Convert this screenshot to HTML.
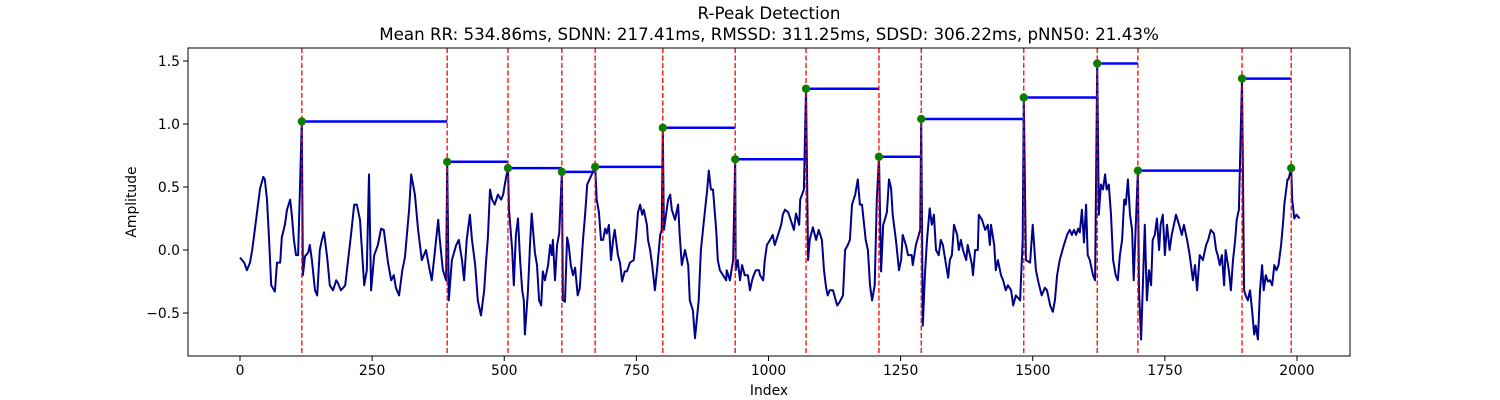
<!DOCTYPE html>
<html><head><meta charset="utf-8"><style>
html,body{margin:0;padding:0;background:#fff;}
svg{display:block;font-family:"DejaVu Sans","Liberation Sans",sans-serif;}
</style></head><body>
<svg id="chart" width="1500" height="400" viewBox="0 0 1500 400">
<text x="769" y="19" text-anchor="middle" font-size="16.7">R-Peak Detection</text>
<text x="769" y="40" text-anchor="middle" font-size="16.7">Mean RR: 534.86ms, SDNN: 217.41ms, RMSSD: 311.25ms, SDSD: 306.22ms, pNN50: 21.43%</text>
<g id="plot"></g>
<rect x="188" y="48" width="1162" height="308" fill="none" stroke="#000" stroke-width="1"/>
<text x="769" y="395" text-anchor="middle" font-size="13.9">Index</text>
<text transform="translate(136,202) rotate(-90)" text-anchor="middle" font-size="13.9">Amplitude</text>
</svg>
<script>
const sigIdx=[0,8,13,19,23,28,34,38,44,47,51,55,59,66,70,76,79,85,89,95,98,102,106,110,117,119,123,129,132,136,142,146,151,155,159,165,170,176,182,185,191,199,204,210,216,221,227,231,235,240,244,248,254,261,267,272,280,286,291,295,301,307,312,320,324,331,337,344,352,359,363,371,375,378,384,390,392,395,401,409,414,420,424,429,435,439,445,450,456,462,465,469,473,477,482,488,494,498,501,507,509,515,518,522,526,530,534,537,539,545,549,552,558,562,566,570,573,577,583,587,590,592,596,600,604,609,611,615,619,622,626,630,634,639,643,649,653,657,672,675,679,683,687,691,694,698,702,706,709,715,719,723,728,732,738,745,749,753,757,761,764,770,772,776,780,783,785,789,795,798,800,802,806,810,814,817,823,829,832,836,842,848,851,857,861,865,868,872,878,884,887,891,895,901,904,908,914,920,921,927,933,937,938,942,946,950,955,961,965,969,972,976,982,984,990,993,997,1003,1008,1012,1018,1024,1027,1031,1037,1042,1048,1052,1058,1060,1067,1071,1075,1078,1084,1090,1095,1101,1105,1109,1112,1116,1122,1126,1130,1135,1141,1145,1150,1154,1158,1164,1169,1173,1177,1184,1188,1192,1196,1201,1205,1209,1213,1217,1220,1224,1228,1232,1235,1241,1247,1251,1254,1260,1264,1271,1273,1279,1287,1289,1292,1296,1300,1305,1309,1313,1317,1322,1326,1330,1336,1340,1343,1347,1351,1357,1360,1364,1368,1374,1377,1381,1385,1387,1391,1396,1398,1404,1410,1415,1419,1421,1427,1430,1434,1440,1444,1449,1453,1459,1463,1468,1476,1481,1483,1487,1495,1500,1506,1512,1517,1523,1527,1533,1538,1542,1546,1551,1559,1565,1570,1574,1578,1582,1586,1589,1593,1597,1601,1604,1608,1614,1618,1622,1625,1629,1633,1637,1640,1644,1648,1652,1657,1661,1665,1669,1673,1676,1680,1684,1688,1691,1695,1699,1701,1705,1708,1712,1716,1720,1724,1727,1731,1735,1739,1742,1746,1750,1754,1759,1763,1767,1771,1777,1782,1786,1792,1797,1803,1807,1811,1816,1822,1828,1832,1837,1843,1847,1850,1854,1858,1862,1865,1871,1875,1879,1883,1886,1890,1896,1900,1903,1907,1911,1915,1919,1922,1926,1930,1934,1937,1941,1945,1949,1953,1957,1961,1965,1970,1974,1976,1982,1984,1989,1991,1995,1999,2005];
const sigVal=[-0.06,-0.10,-0.16,-0.10,0.00,0.16,0.36,0.49,0.58,0.56,0.40,0.08,-0.28,-0.33,-0.10,-0.10,0.10,0.20,0.32,0.40,0.28,0.08,-0.04,-0.04,1.02,-0.20,-0.05,-0.02,0.04,-0.08,-0.32,-0.36,0.00,0.08,0.14,-0.06,-0.28,-0.32,-0.24,-0.26,-0.32,-0.28,-0.10,0.12,0.36,0.36,0.24,-0.02,-0.28,-0.16,0.60,-0.32,-0.04,0.04,0.17,0.16,-0.10,-0.24,-0.20,-0.30,-0.36,-0.16,-0.06,0.32,0.60,0.44,0.16,-0.08,0.00,-0.16,-0.24,0.08,0.24,0.08,-0.16,-0.24,0.70,-0.40,-0.08,0.04,0.08,-0.08,-0.24,0.08,0.28,0.08,-0.12,-0.40,-0.52,-0.32,-0.12,0.10,0.48,0.40,0.36,0.44,0.40,0.44,0.52,0.65,0.32,0.00,-0.28,0.12,0.25,-0.08,-0.32,-0.40,-0.67,-0.32,0.06,0.29,-0.02,-0.12,-0.40,-0.44,-0.17,-0.24,-0.12,0.04,-0.04,0.08,-0.24,0.04,0.13,0.62,-0.40,-0.41,0.10,0.04,-0.12,-0.20,-0.14,-0.36,-0.30,0.08,0.28,0.52,0.66,0.40,0.30,0.08,0.08,0.17,0.13,0.20,-0.08,0.08,0.16,-0.04,-0.10,-0.25,-0.17,-0.17,-0.10,-0.08,0.08,0.30,0.36,0.28,0.32,0.20,0.08,0.00,-0.12,-0.24,-0.32,-0.16,0.12,0.16,0.97,0.16,0.28,0.40,0.44,0.32,0.24,0.36,0.12,-0.12,0.00,-0.12,-0.40,-0.48,-0.70,-0.52,-0.40,0.00,0.24,0.48,0.63,0.48,0.48,0.16,-0.08,-0.16,-0.20,-0.24,-0.16,-0.24,-0.08,0.72,-0.16,-0.08,-0.24,-0.12,-0.20,-0.20,-0.32,-0.24,-0.20,-0.16,-0.16,-0.20,-0.24,-0.08,0.04,0.08,0.12,0.04,0.12,0.20,0.28,0.32,0.30,0.24,0.16,0.29,0.20,0.40,0.48,1.28,-0.08,0.08,0.18,0.08,0.16,0.08,-0.16,-0.30,-0.36,-0.32,-0.32,-0.38,-0.44,-0.41,-0.36,0.00,0.04,0.08,0.36,0.44,0.56,0.36,0.36,0.08,0.00,-0.28,-0.40,-0.28,0.40,0.74,-0.17,0.20,0.24,0.30,0.56,0.49,0.28,0.08,-0.16,-0.08,0.12,0.04,-0.04,-0.04,-0.12,0.04,0.16,1.04,-0.60,-0.20,0.08,0.33,0.20,0.28,0.00,-0.04,0.08,0.04,-0.12,-0.22,-0.08,-0.04,0.20,0.12,0.00,0.08,0.00,-0.08,0.04,-0.04,-0.12,-0.20,0.00,0.00,0.28,0.24,0.16,0.20,0.04,0.20,0.04,-0.16,-0.08,-0.20,-0.24,-0.32,-0.28,-0.32,-0.44,-0.36,-0.40,0.08,1.21,-0.08,-0.10,0.20,-0.16,-0.28,-0.36,-0.30,-0.32,-0.44,-0.49,-0.40,-0.20,-0.08,0.04,0.12,0.16,0.12,0.16,0.12,0.17,0.14,0.32,0.06,0.36,-0.04,-0.08,-0.20,-0.24,1.48,0.28,0.52,0.48,0.60,0.48,0.52,0.28,-0.08,-0.20,-0.24,-0.04,0.08,0.40,0.36,0.56,0.28,0.16,-0.24,0.20,0.63,-0.32,-0.71,-0.32,0.20,-0.40,-0.16,-0.28,0.08,0.12,0.25,0.00,0.20,0.28,-0.04,0.20,0.00,0.12,0.20,0.28,0.20,0.12,0.20,0.08,-0.04,-0.24,-0.12,-0.32,-0.04,-0.08,0.04,0.08,0.16,0.13,0.00,-0.04,-0.12,-0.04,-0.28,0.00,-0.16,-0.32,-0.08,0.08,0.24,0.32,1.36,-0.32,-0.36,-0.40,-0.32,-0.48,-0.67,-0.60,-0.71,-0.32,-0.12,-0.32,-0.20,-0.25,-0.24,-0.28,-0.12,-0.16,-0.12,0.04,0.24,0.36,0.56,0.56,0.65,0.40,0.25,0.28,0.25];
const peakIdx=[117,392,507,609,672,800,937,1071,1209,1289,1483,1622,1699,1896,1989];
const peakVal=[1.02,0.70,0.65,0.62,0.66,0.97,0.72,1.28,0.74,1.04,1.21,1.48,0.63,1.36,0.65];
const xTicks=[0,250,500,750,1000,1250,1500,1750,2000];
const yTicks=[-0.5,0.0,0.5,1.0,1.5];
const yTickLabels=["\u22120.5","0.0","0.5","1.0","1.5"];

const X0=188,X1=1350,Y0=48,Y1=356,XMIN=-98.4,XMAX=2100.3,YMIN=-0.841,YMAX=1.603;
const sx=v=>X0+(v-XMIN)/(XMAX-XMIN)*(X1-X0);
const sy=v=>Y1-(v-YMIN)/(YMAX-YMIN)*(Y1-Y0);
const NS="http://www.w3.org/2000/svg";
const g=document.getElementById('plot');
function mk(tag,attrs,parent){const e=document.createElementNS(NS,tag);for(const k in attrs)e.setAttribute(k,attrs[k]);(parent||g).appendChild(e);return e;}

let d=sigIdx.map((x,i)=>(i?'L':'M')+sx(x).toFixed(1)+','+sy(sigVal[i]).toFixed(1)).join('');
const sig=mk('path',{d:d,fill:'none',stroke:'#00008b','stroke-width':2,'stroke-linejoin':'round'});



for(let i=0;i<peakIdx.length-1;i++){
  const l=mk('line',{x1:sx(peakIdx[i]),x2:sx(peakIdx[i+1]),y1:sy(peakVal[i]),y2:sy(peakVal[i]),stroke:'#0000ff','stroke-width':2.5});
  
  
}
peakIdx.forEach(p=>{
  const l=mk('line',{x1:sx(p),x2:sx(p),y1:Y0,y2:Y1,stroke:'#ff0000','stroke-width':1.3,'stroke-dasharray':'5,2.5'});
  
  
});
peakIdx.forEach((p,i)=>{
  const c=mk('circle',{cx:sx(p),cy:sy(peakVal[i]),r:3.8,fill:'#008000',stroke:'#3a7a00','stroke-width':0.8});
  
  
});
xTicks.forEach(t=>{
  const x=sx(t);
  const tk=mk('line',{x1:x,x2:x,y1:Y1,y2:Y1+5,stroke:'#000','stroke-width':1});
  
  
  const tx=mk('text',{x:x,y:Y1+19,'text-anchor':'middle','font-size':13.9});
  tx.textContent=t;
  
  
});
yTicks.forEach((t,i)=>{
  const y=sy(t);
  const tk=mk('line',{x1:X0-5,x2:X0,y1:y,y2:y,stroke:'#000','stroke-width':1});
  
  
  const tx=mk('text',{x:X0-8,y:y+5,'text-anchor':'end','font-size':13.9});
  tx.textContent=yTickLabels[i];
  
  
});
</script>
</body></html>
